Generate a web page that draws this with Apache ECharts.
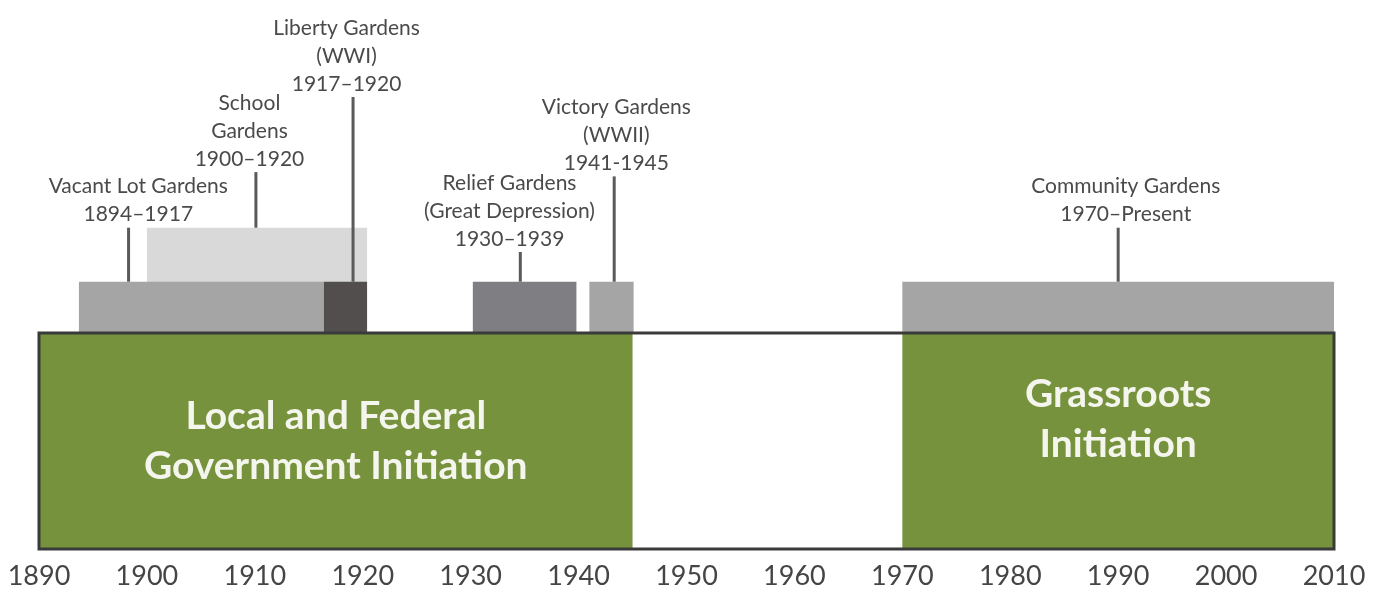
<!DOCTYPE html>
<html>
<head>
<meta charset="utf-8">
<script src="https://cdn.jsdelivr.net/npm/echarts@6/dist/echarts.min.js"></script>
<style>
    html, body { margin: 0; padding: 0; background: #fff; }
    #chart { width: 1374px; height: 592px; }
</style>
</head>
<body>
<div id="chart"></div>
<script>
// --- data ---
const yearMin = 1890;
const yearMax = 2010;
const yearStep = 10;

// big eras (green blocks)
const eraNames = ['Local and Federal\nGovernment Initiation', 'Grassroots\nInitiation'];
const eraStart = [1890, 1970];
const eraEnd = [1945, 2010];

// garden movements (bar ends as drawn in the picture)
const gardenNames = ['Vacant Lot Gardens', 'School\nGardens', 'Liberty Gardens\n(WWI)',
    'Relief Gardens\n(Great Depression)', 'Victory Gardens\n(WWII)', 'Community Gardens'];
const gardenSpans = ['1894–1917', '1900–1920', '1917–1920', '1930–1939', '1941-1945', '1970–Present'];
const gardenStart = [1893.7, 1900, 1916.4, 1930.2, 1941, 1970];
const gardenEnd = [1916.4, 1920.4, 1920.4, 1939.8, 1945.1, 2010];
const gardenTier = [1, 2, 1, 1, 1, 1];

// --- layout (annotation placement, in axis units) ---
const BAND_TOP = 4;
const TIER_TOP = [0, 4.95, 5.95];
const leaderYear = [1898.3, 1910.1, 1919.1, 1934.6, 1943.3, 1990];
const leaderTop = [5.95, 6.98, 8.37, 5.5, 6.9, 5.95];
const labelYear = [1899.2, 1909.5, 1918.5, 1933.6, 1943.5, 1990.7];
const eraTextLevel = [2, 2.4];

// --- styles ---
const GREEN = '#76923c';
const gardenColors = ['#a5a5a5', '#d9d9d9', '#524e4e', '#7f7f83', '#a5a5a5', '#a5a5a5'];
const FONT = 'Lato, "Open Sans", sans-serif';

let chart = echarts.init(document.getElementById('chart'));

let option = {
    animation: false,
    grid: {
        left: 39,
        right: 40,
        top: 9,
        bottom: 43
    },
    xAxis: {
        type: 'value',
        min: yearMin,
        max: yearMax,
        interval: yearStep,
        axisLine: { show: false },
        axisTick: { show: false },
        splitLine: { show: false },
        axisLabel: {
            margin: 14,
            fontSize: 27,
            fontFamily: FONT,
            color: '#454545',
            formatter: function (v) {
                return String(v);
            }
        }
    },
    yAxis: {
        type: 'value',
        min: 0,
        max: 10,
        show: false
    },
    series: [{
        // green era blocks
        type: 'custom',
        clip: false,
        data: eraStart.map((s, i) => [s, eraEnd[i], eraTextLevel[i]]),
        renderItem: function (params, api) {
            let p0 = api.coord([api.value(0), BAND_TOP]);
            let p1 = api.coord([api.value(1), 0]);
            let c = api.coord([(api.value(0) + api.value(1)) / 2, api.value(2)]);
            return {
                type: 'group',
                children: [{
                    type: 'rect',
                    shape: { x: p0[0], y: p0[1], width: p1[0] - p0[0], height: p1[1] - p0[1] },
                    style: { fill: GREEN }
                }, {
                    type: 'text',
                    x: c[0],
                    y: c[1],
                    style: {
                        text: eraNames[params.dataIndex],
                        align: 'center',
                        verticalAlign: 'middle',
                        fontSize: 39,
                        fontWeight: 'bold',
                        lineHeight: 50,
                        fontFamily: FONT,
                        fill: '#f4f6ee'
                    }
                }]
            };
        }
    }, {
        // outer frame of the timeline band
        type: 'custom',
        clip: false,
        data: [[yearMin, yearMax]],
        renderItem: function (params, api) {
            let p0 = api.coord([api.value(0), BAND_TOP]);
            let p1 = api.coord([api.value(1), 0]);
            return {
                type: 'rect',
                shape: { x: p0[0], y: p0[1], width: p1[0] - p0[0], height: p1[1] - p0[1] },
                style: { fill: null, stroke: '#3a3a3a', lineWidth: 3 },
                z2: 5
            };
        }
    }, {
        // garden bars
        type: 'custom',
        clip: false,
        data: gardenStart.map((s, i) => [s, gardenEnd[i], TIER_TOP[gardenTier[i]]]),
        renderItem: function (params, api) {
            let p0 = api.coord([api.value(0), api.value(2)]);
            let p1 = api.coord([api.value(1), BAND_TOP]);
            return {
                type: 'rect',
                shape: { x: p0[0], y: p0[1], width: p1[0] - p0[0], height: p1[1] - p0[1] },
                style: { fill: gardenColors[params.dataIndex] },
                z2: gardenTier[params.dataIndex] === 2 ? 0 : 1
            };
        }
    }, {
        // leader lines and labels
        type: 'custom',
        clip: false,
        z: 3,
        data: leaderYear.map((y, i) => [y, leaderTop[i], labelYear[i], TIER_TOP[gardenTier[i]]]),
        renderItem: function (params, api) {
            let i = params.dataIndex;
            let base = api.coord([api.value(0), api.value(3)]);
            let top = api.coord([api.value(0), api.value(1)]);
            let lab = api.coord([api.value(2), api.value(1)]);
            return {
                type: 'group',
                children: [{
                    type: 'line',
                    shape: { x1: base[0], y1: base[1], x2: top[0], y2: top[1] },
                    style: { stroke: '#5a5a5a', lineWidth: 3 }
                }, {
                    type: 'text',
                    x: lab[0],
                    y: lab[1] + 1,
                    style: {
                        text: gardenNames[i] + '\n' + gardenSpans[i],
                        align: 'center',
                        verticalAlign: 'bottom',
                        fontSize: 21,
                        lineHeight: 28,
                        fontFamily: FONT,
                        fill: '#4a4a4a'
                    }
                }]
            };
        }
    }]
};

chart.setOption(option);
</script>
</body>
</html>
